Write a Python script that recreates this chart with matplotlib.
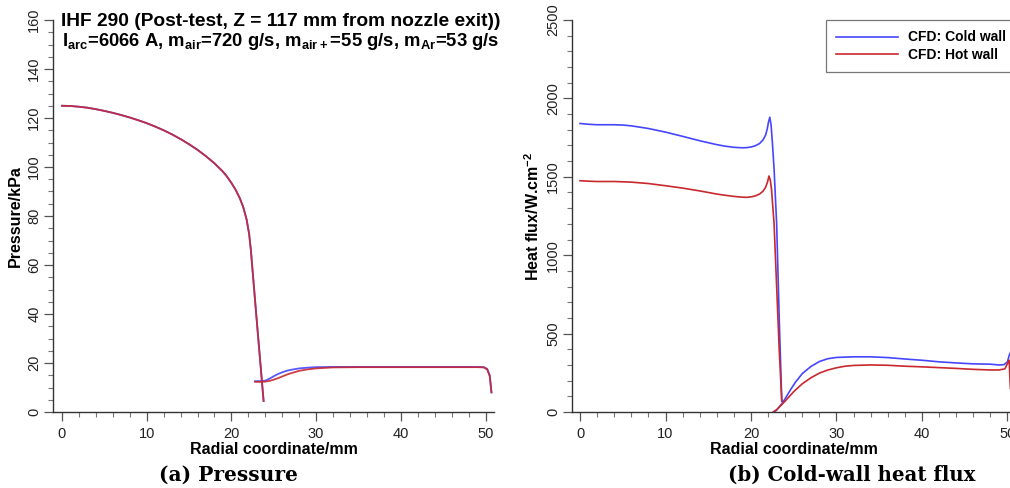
import numpy as np
import matplotlib
matplotlib.use("Agg")
import matplotlib.pyplot as plt
from matplotlib.ticker import MultipleLocator

plt.rcParams['font.family'] = ['Liberation Sans', 'DejaVu Sans']
plt.rcParams['mathtext.fontset'] = 'custom'
plt.rcParams['mathtext.rm'] = 'Liberation Sans:bold'
plt.rcParams['mathtext.bf'] = 'Liberation Sans:bold'

BLUE = '#4646ff'
RED = '#c8282e'

# ---- (a) pressure, kPa ----
p_core_r = [0, 1, 2, 3, 4, 5, 6, 7, 8, 9, 10, 11, 12, 13, 14, 15, 16, 17, 18, 19, 19.5,
            20, 20.5, 21, 21.4, 21.8, 22.1, 22.3, 23.0, 23.8]
p_core = [125, 124.9, 124.6, 124.2, 123.6, 122.9, 122.1, 121.2, 120.2, 119.1, 117.9, 116.5,
          115.0, 113.3, 111.4, 109.3, 107.0, 104.4, 101.5, 98.1, 96.0, 93.5, 90.7, 87.2,
          83.6, 78.5, 72.5, 66, 37, 4.5]

p_out_r = [22.8, 23.5, 24.0, 24.5, 25, 25.5, 26, 26.5, 27, 28, 29, 30, 32, 35, 40, 45, 49,
           49.8, 50.2, 50.5, 50.7]
p_out_cold = [12.6, 12.6, 12.8, 13.6, 14.6, 15.5, 16.2, 16.8, 17.2, 17.8, 18.1, 18.3, 18.4,
              18.4, 18.4, 18.4, 18.4, 18.3, 17.6, 15, 8]
p_out_hot = [12.3, 12.3, 12.4, 12.7, 13.2, 13.8, 14.5, 15.2, 15.8, 16.8, 17.4, 17.8, 18.2,
             18.3, 18.3, 18.3, 18.3, 18.2, 17.3, 14.5, 8]

# ---- (b) heat flux, W/cm2 ----
q_core_r_cold = [0, 1, 2, 3, 4, 5, 6, 8, 10, 12, 14, 16, 17, 18, 19, 19.5, 20, 20.5, 21,
                 21.4, 21.7, 21.9, 22.05, 22.2, 22.35, 22.5, 22.7, 23.0, 23.3, 23.6]
q_core_cold = [1840, 1835, 1832, 1832, 1832, 1830, 1825, 1808, 1785, 1758, 1730, 1705, 1695,
               1688, 1685, 1686, 1690, 1698, 1712, 1735, 1765, 1805, 1850, 1880, 1830, 1720,
               1550, 1200, 600, 70]
q_out_r_cold = [22.7, 23.0, 23.5, 24.0, 24.6, 25.2, 26, 27, 28, 29, 30, 31, 32, 34, 36, 38,
                40, 42, 44, 46, 48, 49, 49.6, 50.0, 50.2, 50.35]
q_out_cold = [0, 12, 45, 85, 140, 190, 245, 290, 322, 340, 348, 350, 352, 352, 347, 338,
              330, 320, 313, 307, 305, 300, 302, 320, 360, 380]

q_core_r_hot = [0, 1, 2, 3, 4, 5, 6, 8, 10, 12, 14, 16, 17, 18, 19, 19.5, 20, 20.5, 21,
                21.4, 21.7, 21.95, 22.1, 22.25, 22.4, 22.7, 23.0, 23.3, 23.6]
q_core_hot = [1475, 1472, 1470, 1470, 1470, 1468, 1466, 1457, 1443, 1428, 1410, 1390, 1382,
              1375, 1370, 1369, 1372, 1378, 1390, 1408, 1432, 1470, 1505, 1480, 1420, 1200,
              800, 400, 70]
q_out_r_hot = [22.6, 23.0, 23.5, 24.0, 25, 26, 27, 28, 29, 30, 31, 32, 34, 36, 38, 40, 42,
               44, 46, 48, 49, 49.7, 50.1, 50.2, 50.3, 50.35]
q_out_hot = [0, 15, 42, 70, 130, 180, 218, 248, 268, 282, 292, 297, 300, 298, 292, 288, 283,
             278, 272, 268, 268, 275, 320, 330, 200, 150]

W, H = 1010, 488
fig = plt.figure(figsize=(W / 100, H / 100), dpi=100)


def px_axes(x0, x1, y_top, y_bot):
    return fig.add_axes([x0 / W, 1 - y_bot / H, (x1 - x0) / W, (y_bot - y_top) / H])


def style(ax, ymajor, yminor):
    for s in ['top', 'right']:
        ax.spines[s].set_visible(False)
    for s in ['left', 'bottom']:
        ax.spines[s].set_color('#333333')
        ax.spines[s].set_linewidth(1.0)
    ax.xaxis.set_major_locator(MultipleLocator(10))
    ax.xaxis.set_minor_locator(MultipleLocator(2))
    ax.yaxis.set_major_locator(MultipleLocator(ymajor))
    ax.yaxis.set_minor_locator(MultipleLocator(yminor))
    ax.tick_params(which='major', direction='out', length=6.5, width=0.9, color='#555555',
                   labelsize=10.5, labelcolor='#222222', pad=4)
    ax.tick_params(axis='y', which='major', pad=2)
    ax.tick_params(which='minor', direction='out', length=3.6, width=0.8, color='#777777')
    for lab in ax.get_yticklabels():
        lab.set_rotation(90)
        lab.set_va('center')
    ax.set_xlabel('Radial coordinate/mm', fontsize=11.5, fontweight='bold', labelpad=1)


# left panel
ax1 = px_axes(53, 494, 20, 412)
ax1.set_xlim(-1.06, 51.0)
ax1.set_ylim(0, 160)
for r_out, p_out, c in [(p_out_r, p_out_cold, BLUE), (p_out_r, p_out_hot, RED)]:
    r = p_core_r + [np.nan] + r_out
    p = p_core + [np.nan] + p_out
    ax1.plot(r, p, color=c, lw=1.3, alpha=0.9)
style(ax1, 20, 5)
ax1.set_ylabel('Pressure/kPa', fontsize=11.5, fontweight='bold', labelpad=3)
fig.text(281 / W, 1 - 21 / H, 'IHF 290 (Post-test, Z = 117 mm from nozzle exit))',
         ha='center', va='center', fontsize=13.8, fontweight='bold')
fig.text(281 / W, 1 - 42 / H,
         r'I$_\mathrm{arc}$=6066 A, m$_\mathrm{air}$=720 g/s, m$_\mathrm{air+}$=55 g/s, m$_\mathrm{Ar}$=53 g/s',
         ha='center', va='center', fontsize=13.3, fontweight='bold')

# right panel
ax2 = px_axes(572, 1016, 20, 412)
ax2.set_xlim(-0.94, 51.0)
ax2.set_ylim(0, 2500)
ax2.plot(q_core_r_cold + [np.nan] + q_out_r_cold, q_core_cold + [np.nan] + q_out_cold,
         color=BLUE, lw=1.2, label='CFD: Cold wall')
ax2.plot(q_core_r_hot + [np.nan] + q_out_r_hot, q_core_hot + [np.nan] + q_out_hot,
         color=RED, lw=1.2, label='CFD: Hot wall')
style(ax2, 500, 100)
ax2.set_ylabel(r'Heat flux/W.cm$^{-2}$', fontsize=11.5, fontweight='bold', labelpad=3)
leg = ax2.legend(loc='upper left', bbox_to_anchor=(826 / W, 1 - 20 / H),
                 bbox_transform=fig.transFigure, frameon=True, fancybox=False,
                 prop={'weight': 'bold', 'size': 10}, handlelength=4.4,
                 handletextpad=0.72, borderpad=0.75, labelspacing=0.25, borderaxespad=0)
leg.get_frame().set_edgecolor('#555555')
leg.get_frame().set_linewidth(0.9)

fig.text(228 / W, 1 - 475 / H, '(a) Pressure', ha='center', va='center',
         fontsize=14.5, fontweight='bold', family='DejaVu Serif')
fig.text(852 / W, 1 - 475 / H, '(b) Cold-wall heat flux', ha='center', va='center',
         fontsize=14.2, fontweight='bold', family='DejaVu Serif')

fig.savefig('out.png', dpi=100)
